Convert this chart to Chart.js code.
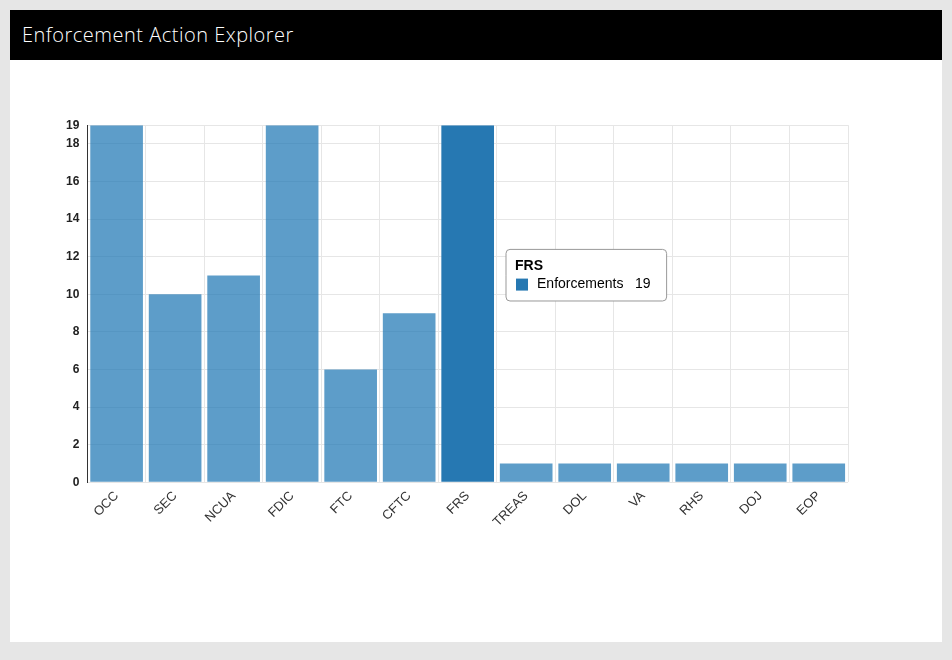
<!DOCTYPE html>
<html>
<head>
<meta charset="utf-8">
<script src="https://cdn.jsdelivr.net/npm/chart.js@4"></script>
<style>
  body { margin: 0; background: #e6e6e6; font-family: "Open Sans", sans-serif; }
  .frame { position: absolute; left: 10px; top: 10px; width: 932px; height: 632px; background: #fff; }
  .head { height: 50px; background: #000; color: #fff; font-size: 20px; font-weight: 300;
          line-height: 50px; padding-left: 12px; letter-spacing: 0.5px; }
  .wrap { position: absolute; left: 30px; top: 100px; width: 880px; height: 426px; }
</style>
</head>
<body>
<div class="frame">
  <div class="head">Enforcement Action Explorer</div>
  <div class="wrap"><canvas id="myChart"></canvas></div>
</div>
<script>
const agencies = ['OCC', 'SEC', 'NCUA', 'FDIC', 'FTC', 'CFTC', 'FRS', 'TREAS', 'DOL', 'VA', 'RHS', 'DOJ', 'EOP']
const enforcements = [19, 10, 11, 19, 6, 9, 19, 1, 1, 1, 1, 1, 1]
const yTicks = [0, 2, 4, 6, 8, 10, 12, 14, 16, 18, 19]

// tooltip sits to the right of the hovered bar, partway down the plot
Chart.Tooltip.positioners.besideBar = function (items) {
    if (!items.length) return false
    const el = items[0].element
    const area = this.chart.chartArea
    return { x: el.x + el.width / 2 + 10, y: area.top + (area.bottom - area.top) * 0.42 }
}

const ctx = document.getElementById('myChart').getContext('2d')
const myChart = new Chart(ctx, {
    type: 'bar',
    data: {
        labels: agencies,
        datasets: [{
            label: 'Enforcements',
            data: enforcements,
            backgroundColor: 'rgba(31,119,180,0.72)',
            hoverBackgroundColor: 'rgb(38,120,178)',
            borderWidth: 0,
            categoryPercentage: 1,
            barPercentage: 0.9
        }]
    },
    options: {
        responsive: true,
        maintainAspectRatio: false,
        animation: false,
        layout: { padding: { left: 18, right: 72, top: 7 } },
        plugins: {
            legend: { display: false },
            tooltip: {
                position: 'besideBar',
                xAlign: 'left',
                yAlign: 'center',
                caretSize: 0,
                backgroundColor: '#fff',
                borderColor: '#999',
                borderWidth: 1,
                cornerRadius: 4,
                titleColor: '#000',
                bodyColor: '#000',
                padding: { left: 9, right: 16, top: 8, bottom: 8 },
                titleFont: { family: 'Liberation Sans', size: 14, weight: 'bold' },
                bodyFont: { family: 'Liberation Sans', size: 14 },
                titleMarginBottom: 2,
                boxPadding: 6,
                callbacks: {
                    label: c => c.dataset.label + '   ' + c.raw,
                    labelColor: () => ({ borderColor: '#fff', backgroundColor: 'rgb(38,120,178)' })
                }
            }
        },
        scales: {
            x: {
                grid: { color: '#e6e6e6', offset: true, drawTicks: false },
                border: { display: false },
                ticks: { color: '#333', maxRotation: 45, minRotation: 45, padding: 6,
                         font: { family: 'Liberation Sans', size: 13 } }
            },
            y: {
                min: 0, max: 19,
                afterBuildTicks: axis => { axis.ticks = yTicks.map(v => ({ value: v })) },
                grid: { color: '#e6e6e6', drawTicks: false },
                border: { color: '#333' },
                ticks: { color: '#222', padding: 8, font: { family: 'Liberation Sans', size: 12, weight: 'bold' } }
            }
        }
    }
})

const idx = agencies.indexOf('FRS')
myChart.setActiveElements([{ datasetIndex: 0, index: idx }])
myChart.tooltip.setActiveElements([{ datasetIndex: 0, index: idx }], { x: 0, y: 0 })
myChart.update()
</script>
</body>
</html>
